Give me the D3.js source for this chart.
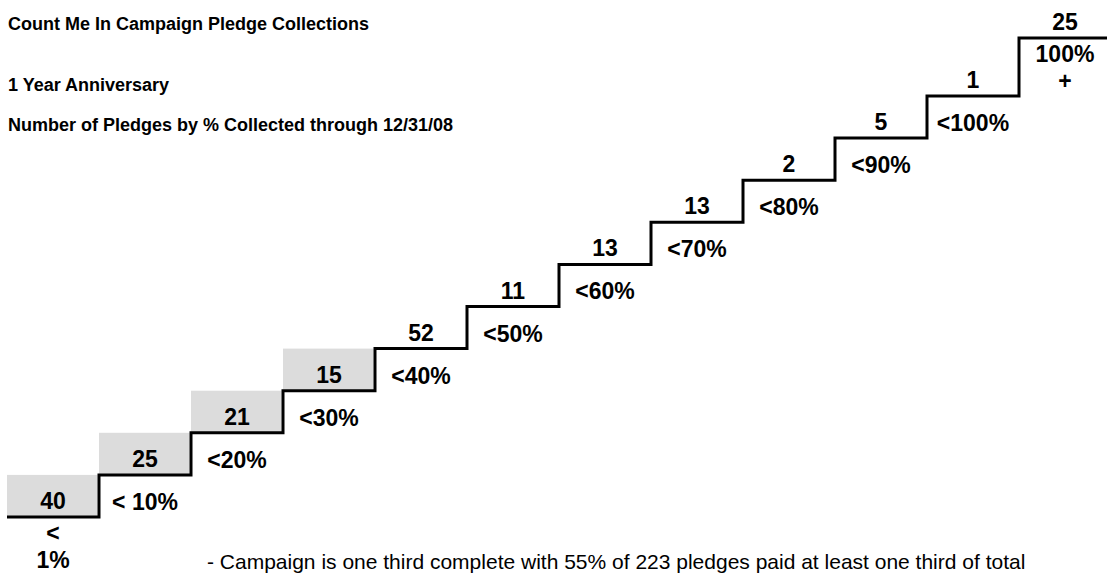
<!DOCTYPE html>
<html>
<head>
<meta charset="utf-8">
<script src="https://cdn.jsdelivr.net/npm/d3@7"></script>
<style>
  html, body { margin: 0; padding: 0; background: #fff; }
  svg { display: block; font-family: "Liberation Sans", Arial, sans-serif; }
</style>
</head>
<body>
<svg id="chart" width="1107" height="574"></svg>
<script>
// ---- data ----
const titleLines = [
  "Count Me In Campaign Pledge Collections",
  "1 Year Anniversary",
  "Number of Pledges by % Collected through 12/31/08"
];
const categories = ["<\n1%", "< 10%", "<20%", "<30%", "<40%", "<50%", "<60%", "<70%", "<80%", "<90%", "<100%", "100%\n+"];
const pledges = [40, 25, 21, 15, 52, 11, 13, 13, 2, 5, 1, 25];
const shadedSteps = ["<\n1%", "< 10%", "<20%", "<30%"]; // below one third collected
const footnote = "- Campaign is one third complete with 55% of 223 pledges paid at least one third of total";

// ---- layout ----
const n = categories.length;
const svg = d3.select("#chart");

const x = d3.scaleLinear().domain([0, n]).range([7, 1111]);
// the top step rises further to make room for its two-line label
const y = d3.scaleLinear().domain([0, n - 2, n - 1]).range([517, 96, 38]);

const steps = categories.map((c, i) => ({ cat: c, value: pledges[i], i }));

// shaded boxes
svg.append("g").selectAll("rect")
  .data(steps.filter(d => shadedSteps.includes(d.cat)))
  .join("rect")
  .attr("x", d => x(d.i))
  .attr("y", d => y(d.i + 1))
  .attr("width", d => x(d.i + 1) - x(d.i) - 1.5)
  .attr("height", d => y(d.i) - y(d.i + 1))
  .attr("fill", "#dcdcdc");

// staircase line
const pts = steps.map(d => [x(d.i), y(d.i)]);
pts.push([x(n), y(n - 1)]);
svg.append("path")
  .attr("d", d3.line().curve(d3.curveStepAfter)(pts))
  .attr("fill", "none")
  .attr("stroke", "#000")
  .attr("stroke-width", 3)
  .attr("stroke-linejoin", "miter");

const cx = d => (x(d.i) + x(d.i + 1)) / 2;

// value labels
svg.append("g").selectAll("text")
  .data(steps)
  .join("text")
  .attr("x", cx)
  .attr("y", d => y(d.i) - 8)
  .attr("text-anchor", "middle")
  .attr("font-size", 23)
  .attr("font-weight", "bold")
  .attr("fill", "#000")
  .text(d => d.value);

// category labels
const catG = svg.append("g").selectAll("text")
  .data(steps)
  .join("text")
  .attr("text-anchor", "middle")
  .attr("font-size", 23)
  .attr("font-weight", "bold")
  .attr("fill", "#000");
catG.each(function(d) {
  const lines = d.cat.split("\n");
  const t = d3.select(this);
  const base = lines.length > 1 ? y(d.i) + 24 : y(d.i) + 35;
  lines.forEach((ln, k) => {
    t.append("tspan").attr("x", cx(d)).attr("y", base + k * 27).text(ln);
  });
});

// titles
svg.append("g").selectAll("text")
  .data(titleLines)
  .join("text")
  .attr("x", 8)
  .attr("y", (d, i) => [30, 91, 131][i])
  .attr("font-size", 18)
  .attr("font-weight", "bold")
  .attr("fill", "#000")
  .text(d => d);

// footnote
svg.append("text")
  .attr("x", 207)
  .attr("y", 569)
  .attr("font-size", 21)
  .attr("fill", "#000")
  .text(footnote);
</script>
</body>
</html>
